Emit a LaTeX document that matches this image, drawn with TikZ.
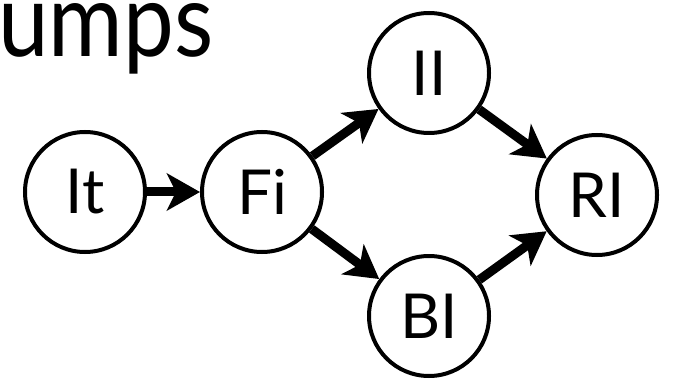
\documentclass[tikz,border=0pt]{standalone}
\usepackage{fontspec}
\setmainfont{Lato}
\usetikzlibrary{arrows.meta}
\begin{document}
\begin{tikzpicture}[x=1pt,y=-1pt,
  state/.style={circle,draw,line width=4pt,minimum size=120pt,inner sep=0pt,font=\fontsize{62}{62}\selectfont},
  conn/.style={line width=9pt,-{Stealth[length=33pt,width=37pt,inset=9pt]}}]
\useasboundingbox (0,0) rectangle (684,379);
\node[anchor=base west,inner sep=0pt,font=\fontsize{103}{103}\selectfont,xscale=0.88,transform shape] (title) at (-2,57) {umps};
\node[state] (it) at (85,192) {It};
\node[state] (fi) at (262,192) {Fi};
\node[state] (ii) at (429,73) {II};
\node[state] (bi) at (429,316) {BI};
\node[state] (ri) at (597,195) {RI};
\draw[conn] (it) -- (fi);
\draw[conn] (fi) -- (ii);
\draw[conn] (fi) -- (bi);
\draw[conn] (ii) -- (ri);
\draw[conn] (bi) -- (ri);
\end{tikzpicture}
\end{document}
